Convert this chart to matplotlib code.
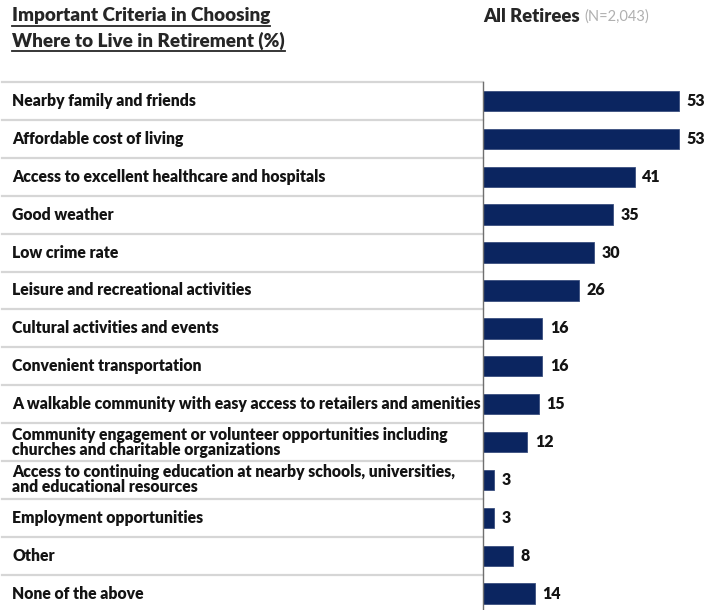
import matplotlib
matplotlib.use("Agg")
import matplotlib.pyplot as plt
from matplotlib.lines import Line2D
import matplotlib.transforms as mtransforms

plt.rcParams['font.family'] = ['Lato', 'DejaVu Sans']

categories = [
    "Nearby family and friends",
    "Affordable cost of living",
    "Access to excellent healthcare and hospitals",
    "Good weather",
    "Low crime rate",
    "Leisure and recreational activities",
    "Cultural activities and events",
    "Convenient transportation",
    "A walkable community with easy access to retailers and amenities",
    "Community engagement or volunteer opportunities including\nchurches and charitable organizations",
    "Access to continuing education at nearby schools, universities,\nand educational resources",
    "Employment opportunities",
    "Other",
    "None of the above",
]
values = [53, 53, 41, 35, 30, 26, 16, 16, 15, 12, 3, 3, 8, 14]

title_lines = ["Important Criteria in Choosing", "Where to Live in Retirement (%)"]
series_name = "All Retirees"
sample_note = "(N=2,043)"

W, H = 709, 610
fig = plt.figure(figsize=(W / 100, H / 100), dpi=100)

x0, top = 483, 82
ax = fig.add_axes([x0 / W, 0, (W - x0) / W, (H - top) / H])
row_px = 37.9
n_rows = (H - top) / row_px
ax.set_xlim(0, (W - x0) / 3.7)
ax.set_ylim(-0.5 + n_rows, -0.5)

bar_color = "#0b2560"
text_color = "#141414"
ypos = list(range(len(categories)))
ax.barh(ypos, values, height=0.54, color=bar_color, edgecolor="#3a4f7f", linewidth=0.6)

for s in ["top", "right", "bottom"]:
    ax.spines[s].set_visible(False)
ax.spines["left"].set_color("#6f6f6f")
ax.spines["left"].set_linewidth(1.0)
ax.set_xticks([])
ax.set_yticks([])

# value labels at bar ends
for y, v in zip(ypos, values):
    ax.annotate(str(v), (v, y), xytext=(5.5, 0), textcoords="offset points",
                ha="left", va="center", fontsize=11.5, fontweight="heavy",
                color=text_color)

# category labels and row separators spanning the label column
blend = mtransforms.blended_transform_factory(fig.transFigure, ax.transData)
for y, lab in zip(ypos, categories):
    ax.text(12 / W, y, lab, transform=blend, ha="left", va="center",
            fontsize=11.3, fontweight="heavy", color=text_color,
            linespacing=0.92, clip_on=False)
for b in range(len(categories)):
    ax.add_line(Line2D([2 / W, x0 / W], [b - 0.5, b - 0.5], transform=blend,
                       color="#d6d6d6", linewidth=1.6, clip_on=False))

# header
title_objs = []
for i, line in enumerate(title_lines):
    t = fig.text(12 / W, 1 - (16 + 25 * i) / H, line, ha="left", va="center",
                 fontsize=13.6, fontweight="heavy", color="#262626")
    title_objs.append(t)

hdr = fig.text(x0 / W, 1 - 16 / H, series_name, ha="left", va="center",
               fontsize=13.3, fontweight="heavy", color="#262626")
fig.canvas.draw()
renderer = fig.canvas.get_renderer()
bb = hdr.get_window_extent(renderer).transformed(fig.transFigure.inverted())
fig.text(bb.x1 + 5 / W, 1 - 17 / H, sample_note, ha="left", va="center",
         fontsize=10.5, color="#b0b0b0")

# underline the title
for t in title_objs:
    bb = t.get_window_extent(renderer).transformed(fig.transFigure.inverted())
    yline = bb.y0 - 1.0 / H
    fig.add_artist(Line2D([bb.x0, bb.x1], [yline, yline], transform=fig.transFigure,
                          color="#262626", linewidth=1.3))

fig.savefig("out.png", dpi=100)
